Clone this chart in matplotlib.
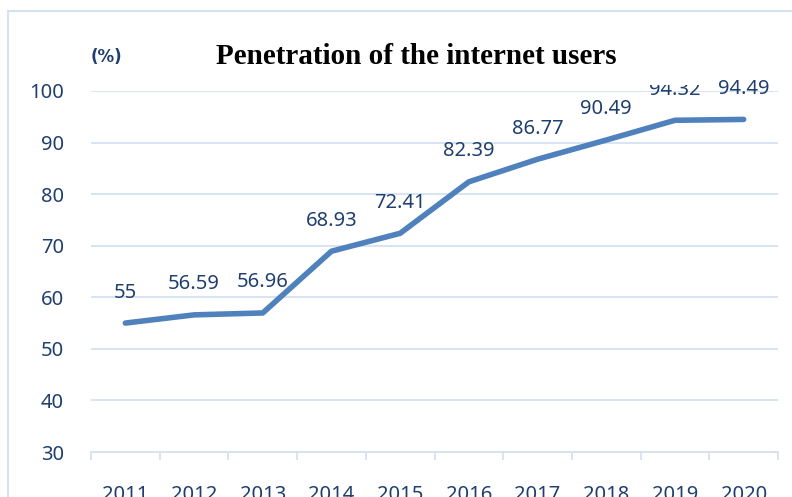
import matplotlib.pyplot as plt
from matplotlib.patches import Rectangle
from matplotlib.transforms import Bbox, TransformedBbox

years = ["2011", "2012", "2013", "2014", "2015", "2016", "2017", "2018", "2019", "2020"]
penetration = [55, 56.59, 56.96, 68.93, 72.41, 82.39, 86.77, 90.49, 94.32, 94.49]
yticks = [30, 40, 50, 60, 70, 80, 90, 100]

text_blue = "#1F3F6E"
line_blue = "#4F81BD"
grid_blue = "#D6E2F2"

fig = plt.figure(figsize=(7.92, 4.97), dpi=100)
ax = fig.add_axes([91 / 792, 1 - 452 / 497, (778 - 91) / 792, (452 - 91) / 497])

x = list(range(len(years)))
ax.plot(x, penetration, color=line_blue, lw=4, solid_capstyle="round", zorder=3)

# the 2019 label is cut off just above the top gridline in the original
clip = TransformedBbox(Bbox([[0, 0], [1, 1 - 85 / 497]]), fig.transFigure)

for xi, v in zip(x, penetration):
    t = ax.annotate(f"{v:g}", (xi, v), xytext=(0, 22), textcoords="offset points",
                    ha="center", va="center", fontsize=14.5, color=text_blue,
                    family="Noto Sans", zorder=4)
    if years[xi] == "2019":
        t.set_clip_box(clip)
        t.set_clip_on(True)

ax.set_xlim(-0.5, len(years) - 0.5)
ax.set_ylim(30, 100)
ax.set_yticks(yticks)
ax.set_xticks(x)
ax.set_xticklabels(years)
ax.set_xticks([i - 0.5 for i in range(len(years) + 1)], minor=True)

ax.grid(axis="y", color=grid_blue, lw=1.3)
ax.set_axisbelow(True)
for s in ["top", "right", "left"]:
    ax.spines[s].set_visible(False)
ax.spines["bottom"].set_color(grid_blue)
ax.spines["bottom"].set_linewidth(1.3)

ax.tick_params(axis="y", length=0, pad=19.5, labelsize=14.5, labelcolor=text_blue)
ax.tick_params(axis="x", which="major", length=0, pad=24, labelsize=14.5, labelcolor=text_blue)
ax.tick_params(axis="x", which="minor", length=6, width=1.3, color=grid_blue)
for lab in ax.get_xticklabels() + ax.get_yticklabels():
    lab.set_family("Noto Sans")

fig.text(416 / 792, 1 - 57 / 497, "Penetration of the internet users", ha="center", va="center",
         fontsize=21, fontweight="bold", family="Liberation Serif", color="black")
fig.text(106 / 792, 1 - 57 / 497, "(%)", ha="center", va="center", fontsize=12,
         fontweight="bold", family="DejaVu Sans", color=text_blue)

fig.patches.append(Rectangle((8 / 792, -0.1), 1.1, 1 - 11 / 497 + 0.1, transform=fig.transFigure,
                             fill=False, edgecolor=grid_blue, lw=1.5))

fig.savefig("out.png", dpi=100)
